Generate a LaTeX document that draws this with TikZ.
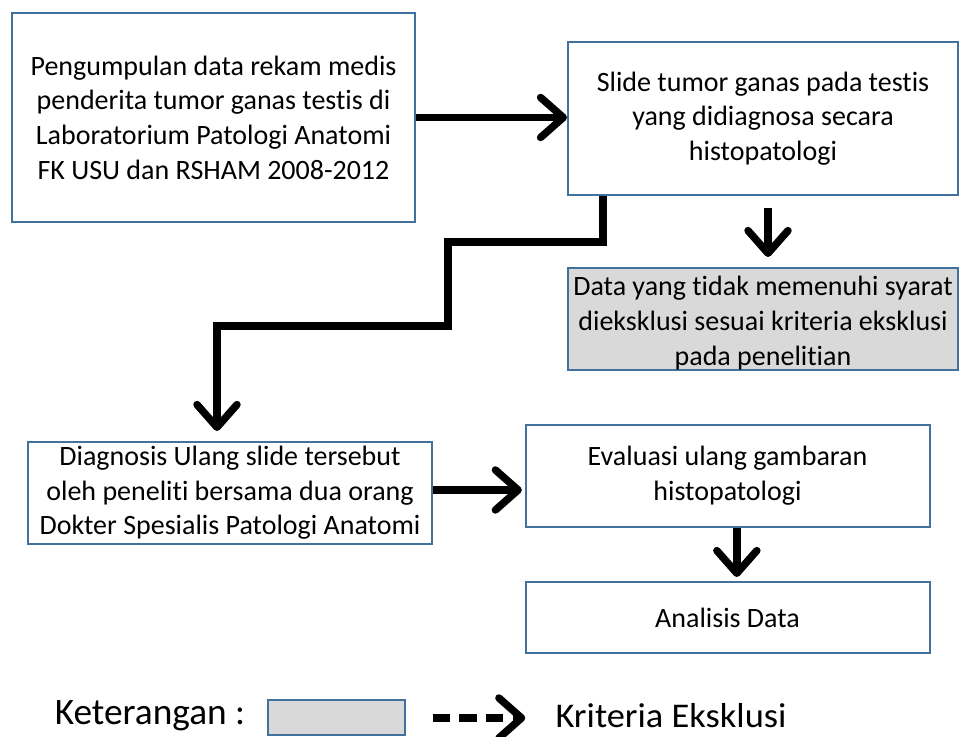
\documentclass[tikz,border=0pt]{standalone}
\usepackage{fontspec}
\setmainfont{Carlito}[Ligatures={NoCommon}]
\usetikzlibrary{arrows.meta}

\definecolor{boxblue}{RGB}{65,113,156}
\definecolor{exgrey}{RGB}{217,217,217}

\begin{document}
\begin{tikzpicture}[x=0.75pt, y=-0.75pt,
	every node/.style={font=\fontsize{21}{26}\selectfont, align=center, inner sep=0pt},
	flowbox/.style={draw=boxblue, line width=1.5pt, fill=white, minimum width=303pt},
	exbox/.style={flowbox, fill=exgrey},
	arr/.style={line width=5.6pt, -{Straight Barb[round, length=17pt, width=30pt]}}]
	\useasboundingbox (0,0) rectangle (960,737);
	% boxes
	\node[flowbox, minimum width=302pt, minimum height=156.75pt] (collect) at (213.5,117.5) {Pengumpulan data rekam medis\\penderita tumor ganas testis di\\Laboratorium Patologi Anatomi\\FK USU dan RSHAM 2008-2012};
	\node[flowbox, minimum width=292.5pt, minimum height=114.75pt] (slide) at (763,118.5) {Slide tumor ganas pada testis\\yang didiagnosa secara\\histopatologi};
	\node[exbox, minimum width=292.5pt, minimum height=76.5pt] (exclude) at (763,319) {};
	\node at (763,323) {Data yang tidak memenuhi syarat\\dieksklusi sesuai kriteria eksklusi\\pada penelitian};
	\node[flowbox, minimum height=76.5pt] (rediag) at (230,493) {Diagnosis Ulang slide tersebut\\oleh peneliti bersama dua orang\\Dokter Spesialis Patologi Anatomi};
	\node[flowbox, minimum height=76.5pt] (eval) at (727.5,476) {Evaluasi ulang gambaran\\histopatologi};
	\node[flowbox, minimum height=53.25pt] (analysis) at (727.5,617.5) {Analisis Data};
	% arrows
	\coordinate (bendA) at (448,242);
	\coordinate (bendB) at (217,326);
	\draw[arr] (collect.east) -- (collect.east -| slide.west);
	\draw[arr, shorten <=9pt, shorten >=7.5pt] ([xshift=3.75pt]slide.south) -- ([xshift=3.75pt]exclude.north);
	\draw[arr, shorten >=7.5pt] ([xshift=27pt]slide.south west) |- (bendA) |- (bendB) -- (bendB |- rediag.north);
	\draw[arr, shorten >=2pt] (rediag.east |- 0,490) -- (eval.west |- 0,490);
	\draw[arr, shorten >=3pt] ([xshift=7pt]eval.south) -- ([xshift=7pt]analysis.north);
	% legend
	\node[font=\fontsize{28}{32}\selectfont] (note) at (150,716) {Keterangan :};
	\node[exbox, minimum width=102.75pt, minimum height=26pt] (notebox) at (336.5,717.5) {};
	\node[font=\fontsize{26}{30}\selectfont, xscale=1.05] (crit) at (671,716) {Kriteria Eksklusi};
	\draw[arr, dash pattern=on 13pt off 7pt, shorten <=20pt, shorten >=22.5pt] (notebox.east |- 0,718) -- (crit.west |- 0,718);
\end{tikzpicture}
\end{document}
